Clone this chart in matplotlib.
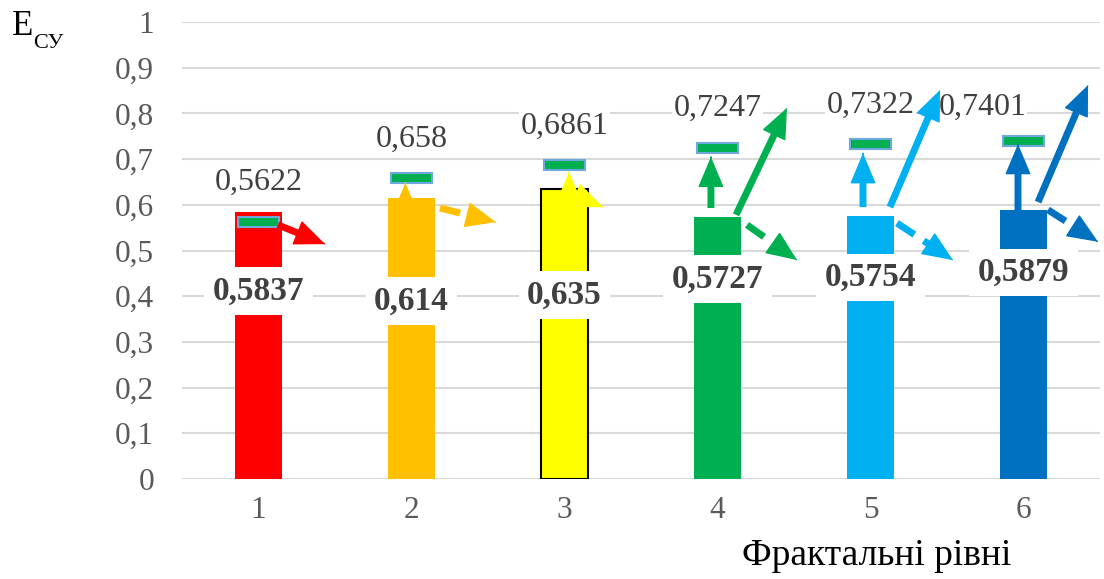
import numpy as np
import matplotlib.pyplot as plt
from matplotlib.ticker import FuncFormatter

plt.rcParams['font.family'] = ['Liberation Serif', 'DejaVu Serif']

levels = ['1', '2', '3', '4', '5', '6']
bar_values = [0.5837, 0.614, 0.635, 0.5727, 0.5754, 0.5879]
marker_values = [0.5622, 0.658, 0.6861, 0.7247, 0.7322, 0.7401]
colors = ['#FF0000', '#FFC000', '#FFFF00', '#00B050', '#00B0F0', '#0070C0']

# позиції підписів (вручну, як на рисунку)
bold_label_y = [0.411, 0.389, 0.403, 0.438, 0.441, 0.452]

# стрілки: (dx0, y0, dx1, y1, пунктир) відносно центру стовпця
arrows = [
    [(0.127, 0.556, 0.435, 0.514, False)],
    [(-0.04, 0.60, -0.04, 0.648, False), (0.186, 0.593, 0.552, 0.562, True)],
    [(0.03, 0.62, 0.03, 0.672, False), (0.0, 0.63, 0.252, 0.595, False)],
    [(-0.043, 0.593, -0.043, 0.705, False), (0.121, 0.578, 0.454, 0.812, False),
     (0.193, 0.556, 0.520, 0.479, True)],
    [(-0.049, 0.595, -0.049, 0.713, False), (0.127, 0.595, 0.454, 0.851, False),
     (0.173, 0.560, 0.539, 0.479, True)],
    [(-0.036, 0.584, -0.036, 0.733, False), (0.095, 0.606, 0.422, 0.862, False),
     (0.160, 0.589, 0.487, 0.519, True)],
]


def fmt(v):
    return ('%g' % v).replace('.', ',')


fig = plt.figure(figsize=(11.04, 5.79), dpi=100)
ax = fig.add_axes([182 / 1104, 100 / 579, 918 / 1104, 457 / 579])

x = np.arange(1, len(levels) + 1)
edges = ['none', 'none', 'black', 'none', 'none', 'none']
ax.bar(x, bar_values, width=0.31, color=colors, edgecolor=edges, linewidth=1.5, zorder=2)

mh = 0.022
ax.bar(x, [mh] * len(x), bottom=[v - mh / 2 for v in marker_values], width=0.27,
       color='#00B050', edgecolor='#6FA8DC', linewidth=1.5, zorder=4)

for i, v in enumerate(bar_values):
    ax.text(x[i], bold_label_y[i], fmt(v), ha='center', va='center', fontsize=24,
            fontweight='bold', color='#404040', zorder=5,
            bbox=dict(facecolor='white', edgecolor='none', pad=6))

for i, v in enumerate(marker_values):
    lx, ly = x[i], v + 0.086
    if i == 5:
        lx, ly = x[i] - 0.27, v + 0.073
    ax.text(lx, ly, fmt(v), ha='center', va='center', fontsize=23, color='#404040',
            zorder=5, bbox=dict(facecolor='white', edgecolor='none', pad=1))


def arrow(x0, y0, x1, y1, c, dashed):
    ls = (0, (3, 1.6)) if dashed else '-'
    ax.annotate('', xy=(x1, y1), xytext=(x0, y0), zorder=6,
                arrowprops=dict(arrowstyle='-', color=c, lw=5, linestyle=ls,
                                shrinkA=0, shrinkB=14, capstyle='butt'))
    hx, hy = x1 - 0.01 * (x1 - x0), y1 - 0.01 * (y1 - y0)
    ax.annotate('', xy=(x1, y1), xytext=(hx, hy), zorder=6,
                arrowprops=dict(arrowstyle='-|>,head_length=1.0,head_width=0.42',
                                mutation_scale=20, color=c, lw=1,
                                shrinkA=0, shrinkB=0))


for i, lst in enumerate(arrows):
    for dx0, y0, dx1, y1, d in lst:
        arrow(x[i] + dx0, y0, x[i] + dx1, y1, colors[i], d)

ax.set_xlim(0.5, 6.5)
ax.set_ylim(0, 1)
ax.set_xticks(x)
ax.set_xticklabels(levels)
ax.set_yticks(np.arange(0, 1.01, 0.1))
ax.yaxis.set_major_formatter(FuncFormatter(lambda v, p: fmt(round(v, 1))))
ax.yaxis.grid(True, color='#D9D9D9', linewidth=1.5)
ax.set_axisbelow(True)
for s in ax.spines.values():
    s.set_visible(False)
ax.tick_params(axis='both', length=0, labelsize=22.5, labelcolor='#595959')
ax.tick_params(axis='y', pad=20)
ax.tick_params(axis='x', pad=12)

fig.text(12 / 1104, 1 - 35 / 579, 'E', fontsize=25, color='black', ha='left', va='baseline')
fig.text(33 / 1104, 1 - 48 / 579, 'СУ', fontsize=16, color='black', ha='left', va='baseline')
fig.text(877 / 1104, 1 - 556 / 579, 'Фрактальні рівні', fontsize=27, color='black',
         ha='center', va='center')

fig.savefig('out.png', dpi=100)
